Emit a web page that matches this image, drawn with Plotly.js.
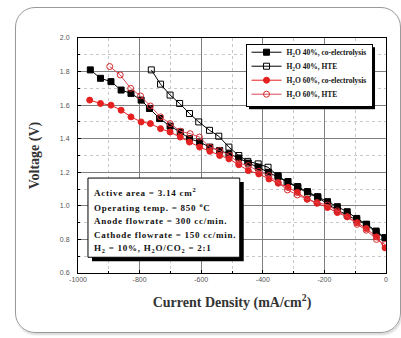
<!DOCTYPE html>
<html>
<head>
<meta charset="utf-8">
<script src="https://cdn.plot.ly/plotly-3.0.1.min.js"></script>
<style>
html,body{margin:0;padding:0;background:#fff;}
#wrap{position:relative;width:401px;height:338px;overflow:hidden;}
#chart{position:absolute;left:0;top:0;width:401px;height:338px;}
#card{position:absolute;left:15px;top:7px;width:386px;height:326px;border:1px solid #9a9a9a;border-radius:20px;box-sizing:border-box;pointer-events:none;box-shadow:1px 2px 2px rgba(0,0,0,0.15);}
</style>
</head>
<body>
<div id="wrap"><div id="chart"></div><div id="card"></div></div>
<script>
// ---- data ----
var co40X = [-960,-927,-893,-860,-828,-795,-768,-735,-701,-668,-638,-605,-572,-540,-510,-478,-447,-415,-382,-350,-318,-287,-255,-222,-190,-158,-126,-95,-63,-32,-3];
var co40Y = [1.81,1.76,1.74,1.69,1.67,1.63,1.58,1.52,1.475,1.44,1.40,1.38,1.35,1.33,1.31,1.285,1.255,1.23,1.20,1.175,1.145,1.115,1.085,1.055,1.025,0.995,0.965,0.925,0.89,0.85,0.81];

var hte40X = [-762,-732,-701,-670,-638,-608,-573,-543,-510,-478,-449,-415,-383,-351,-321,-286,-254,-221,-189,-158,-126,-95,-64,-32,-3];
var hte40Y = [1.81,1.725,1.66,1.61,1.55,1.50,1.45,1.415,1.35,1.30,1.265,1.25,1.23,1.18,1.14,1.11,1.075,1.05,1.01,0.975,0.945,0.915,0.89,0.84,0.81];

var co60X = [-962,-927,-893,-860,-828,-795,-765,-732,-701,-668,-638,-605,-572,-540,-510,-478,-447,-413,-380,-350,-318,-288,-256,-224,-190,-158,-126,-94,-64,-31,-3];
var co60Y = [1.63,1.61,1.60,1.57,1.53,1.50,1.49,1.46,1.44,1.41,1.38,1.35,1.325,1.30,1.28,1.245,1.21,1.19,1.16,1.135,1.11,1.08,1.04,1.015,0.99,0.96,0.935,0.90,0.865,0.815,0.75];

var hte60X = [-897,-863,-829,-797,-765,-732,-701,-668,-636,-606,-572,-540,-507,-478,-447,-413,-380,-350,-320,-288,-256,-224,-190,-158,-125,-94,-64,-31,-3];
var hte60Y = [1.83,1.78,1.70,1.655,1.595,1.53,1.49,1.445,1.43,1.41,1.35,1.33,1.30,1.255,1.24,1.205,1.18,1.14,1.095,1.065,1.04,1.02,1.005,0.97,0.935,0.89,0.855,0.80,0.77];

var seriesNames = ['H<sub>2</sub>O 40%, co-electrolysis','H<sub>2</sub>O 40%, HTE','H<sub>2</sub>O 60%, co-electrolysis','H<sub>2</sub>O 60%, HTE'];
var xTickVals = [-1000,-800,-600,-400,-200,0];
var xTickText = ['-1000','-800','-600','-400','-200','0'];
var yTickVals = [0.6,0.8,1.0,1.2,1.4,1.6,1.8,2.0];
var yTickText = ['0.6','0.8','1.0','1.2','1.4','1.6','1.8','2.0'];
var infoLines = [
  'Active area = 3.14 cm<sup>2</sup>',
  'Operating temp. = 850 <sup>o</sup>C',
  'Anode flowrate = 300 cc/min.',
  'Cathode flowrate = 150 cc/min.',
  'H<sub>2</sub> = 10%, H<sub>2</sub>O/CO<sub>2</sub> = 2:1'
];

// ---- traces ----
function tr(x,y,name,lineColor,sym,mColor,mLine){
  return {x:x,y:y,name:name,type:'scatter',mode:'lines+markers',
    line:{color:lineColor,width:1},
    marker:{symbol:sym,size:6,color:mColor,line:{color:mLine,width:1}}};
}
var data = [
  tr(co40X,co40Y,seriesNames[0],'#000','square','#000','#000'),
  tr(hte40X,hte40Y,seriesNames[1],'#000','square-open','#000','#000'),
  tr(co60X,co60Y,seriesNames[2],'#e52020','circle','#e52020','#e52020'),
  tr(hte60X,hte60Y,seriesNames[3],'#d8485a','circle-open','#d42a2a','#d42a2a')
];

var serif = 'Liberation Serif, Times New Roman, serif';
var L=78, R=14.5, T=38.3, B=65.3;
var W=401-L-R, H=338-T-B;
function px2paperX(px){return (px-L)/W;}
function px2paperY(py){return (338-B-py)/H;}

var shapes = [];
// info box shadow + box
shapes.push({type:'rect',xref:'paper',yref:'paper',x0:px2paperX(92),x1:px2paperX(244),y0:px2paperY(261),y1:px2paperY(182),fillcolor:'#000',line:{width:0},layer:'above'});
shapes.push({type:'rect',xref:'paper',yref:'paper',x0:px2paperX(88),x1:px2paperX(240),y0:px2paperY(257),y1:px2paperY(178),fillcolor:'#fff',line:{color:'#000',width:1},layer:'above'});

var lineY = [191.7,206.7,221,235,248.3];
var annotations = infoLines.map(function(t,i){
  return {text:t,xref:'paper',yref:'paper',x:px2paperX(92),y:px2paperY(lineY[i]),xanchor:'left',yanchor:'middle',align:'left',showarrow:false,
    font:{family:serif,size:9,color:'#111',weight:'bold'}};
});

var layout = {
  width:401,height:338,
  margin:{l:L,r:R,t:T,b:B,pad:0},
  paper_bgcolor:'rgba(0,0,0,0)',plot_bgcolor:'#fff',
  showlegend:true,
  legend:{x:px2paperX(373),y:px2paperY(44),xanchor:'right',yanchor:'top',
    bgcolor:'#fff',bordercolor:'#000',borderwidth:1,
    font:{family:serif,size:7.5,color:'#111',weight:'bold'},itemwidth:30,tracegroupgap:0},
  xaxis:{range:[-1000,0],tickvals:xTickVals,ticktext:xTickText,
    showline:true,mirror:true,linecolor:'#000',linewidth:1,
    ticks:'inside',ticklen:3,tickcolor:'#000',
    showgrid:true,gridcolor:'#808080',gridwidth:1,zeroline:false,
    minor:{dtick:100,tick0:0,showgrid:true,gridcolor:'#c8c8c8',griddash:'dot',ticks:'inside',ticklen:2,tickcolor:'#000'},
    tickfont:{family:'Liberation Sans, Arial, sans-serif',size:7,color:'#555'},
    title:{text:'Current Density (mA/cm<sup>2</sup>)',font:{family:serif,size:14,color:'#333',weight:'bold'},standoff:14}},
  yaxis:{range:[0.6,2.0],tickvals:yTickVals,ticktext:yTickText,
    showline:true,mirror:true,linecolor:'#000',linewidth:1,
    ticks:'inside',ticklen:3,tickcolor:'#000',
    showgrid:true,gridcolor:'#808080',gridwidth:1,zeroline:false,
    minor:{dtick:0.1,tick0:0,showgrid:true,gridcolor:'#c8c8c8',griddash:'dot',ticks:'inside',ticklen:2,tickcolor:'#000'},
    tickfont:{family:'Liberation Sans, Arial, sans-serif',size:7,color:'#555'},
    ticklabelstandoff:6,
    title:{text:'Voltage (V)',font:{family:serif,size:14,color:'#333',weight:'bold'},standoff:16}},
  shapes:shapes,
  annotations:annotations
};

var SVGNS = 'http://www.w3.org/2000/svg';
function parseTranslate(tf){
  var m = /translate\(\s*([-\d.e]+)[\s,]*([-\d.e]+)?\s*\)/.exec(tf||'');
  return m ? [parseFloat(m[1]), m[2]!==undefined ? parseFloat(m[2]) : 0] : [0,0];
}
function adjust(){
  // compact legend rows and add drop shadow
  var leg = gd.querySelector('.legend');
  if(leg){
    var bg = leg.querySelector('rect.bg');
    var items = leg.querySelectorAll('.traces');
    var step = 14, first = null, orig = 19, shift = 7;
    for(var i=0;i<items.length;i++){
      var p = parseTranslate(items[i].getAttribute('transform'));
      if(i===0) first = p[1] - shift;
      if(i===1) orig = p[1] - (first + shift);
      items[i].setAttribute('transform','translate('+p[0]+','+(first+i*step)+')');
    }
    if(bg){
      var h = parseFloat(bg.getAttribute('height'));
      var newH = h - (items.length)*(orig-step) - 5;
      bg.setAttribute('height', newH);
      var sh = document.createElementNS(SVGNS,'rect');
      sh.setAttribute('x', (parseFloat(bg.getAttribute('x'))||0) + 3);
      sh.setAttribute('y', (parseFloat(bg.getAttribute('y'))||0) + 3);
      sh.setAttribute('width', bg.getAttribute('width'));
      sh.setAttribute('height', newH);
      sh.setAttribute('fill', '#000');
      bg.parentNode.insertBefore(sh, bg);
    }
  }
  // widen the info-box text like the reference (left edge stays fixed)
  var ts = gd.querySelectorAll('.annotation-text');
  for(var k=0;k<ts.length;k++){
    var t = ts[k];
    var before = t.getBBox().x;
    t.style.letterSpacing = '0.75px';
    var after = t.getBBox().x;
    var dx = before - after;
    if(Math.abs(dx) > 0.01){
      var ox = parseFloat(t.getAttribute('x')) || 0;
      t.setAttribute('x', ox + dx);
      var tsp = t.querySelectorAll('tspan[x]');
      for(var j=0;j<tsp.length;j++){ tsp[j].setAttribute('x', (parseFloat(tsp[j].getAttribute('x'))||0) + dx); }
    }
  }
}

var gd = document.getElementById('chart');
Plotly.newPlot(gd,data,layout,{staticPlot:true,displayModeBar:false}).then(adjust);
</script>
</body>
</html>
